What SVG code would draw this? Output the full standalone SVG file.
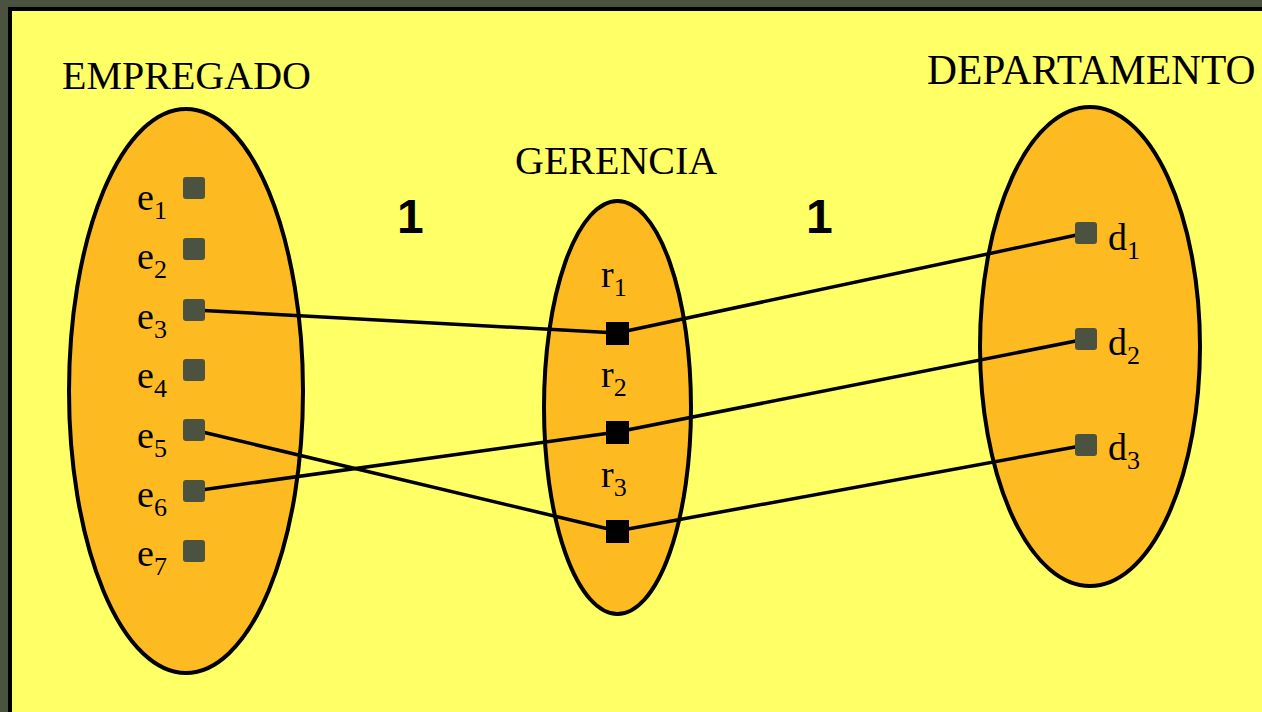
<svg xmlns="http://www.w3.org/2000/svg" width="1262" height="712" viewBox="0 0 1262 712">
<style>
.bg{fill:#4b5340}
.panel{fill:#ffff66;stroke:#000;stroke-width:4}
.set{fill:#fdba21;stroke:#000;stroke-width:4}
.title{font-family:"Liberation Serif","Times New Roman",serif;font-size:40px;fill:#000}
.lbl{font-family:"Liberation Serif","Times New Roman",serif;font-size:38px;fill:#000}
.sub{font-size:26px}
.card{font-family:"Liberation Sans",Arial,sans-serif;font-size:48px;font-weight:bold;fill:#000}
.ent{fill:#4b5340}
.rel{fill:#000}
.conn{stroke:#000;stroke-width:3.5;fill:none}
</style>
<rect class="bg" x="0" y="0" width="1262" height="712"/>
<rect class="panel" x="10" y="9" width="1270" height="720"/>
<g id="empregado">
<ellipse class="set" cx="186" cy="391" rx="117" ry="282"/>
<text class="title" x="62" y="89">EMPREGADO</text>
<text class="lbl" x="137" y="210">e<tspan class="sub" dy="9">1</tspan></text>
<text class="lbl" x="137" y="269">e<tspan class="sub" dy="9">2</tspan></text>
<text class="lbl" x="137" y="329">e<tspan class="sub" dy="9">3</tspan></text>
<text class="lbl" x="137" y="388">e<tspan class="sub" dy="9">4</tspan></text>
<text class="lbl" x="137" y="448">e<tspan class="sub" dy="9">5</tspan></text>
<text class="lbl" x="137" y="507">e<tspan class="sub" dy="9">6</tspan></text>
<text class="lbl" x="137" y="566">e<tspan class="sub" dy="9">7</tspan></text>
</g>
<g id="gerencia">
<ellipse class="set" cx="617.5" cy="407.5" rx="73.5" ry="206.5"/>
<text class="title" x="515" y="174">GERENCIA</text>
<text class="lbl" x="601" y="287">r<tspan class="sub" dy="9">1</tspan></text>
<text class="lbl" x="601" y="387">r<tspan class="sub" dy="9">2</tspan></text>
<text class="lbl" x="601" y="487">r<tspan class="sub" dy="9">3</tspan></text>
</g>
<g id="departamento">
<ellipse class="set" cx="1090" cy="346.5" rx="110" ry="239.5"/>
<text class="title" x="927" y="84" style="font-size:41.5px">DEPARTAMENTO</text>
<text class="lbl" x="1108" y="250">d<tspan class="sub" dy="9">1</tspan></text>
<text class="lbl" x="1108" y="355">d<tspan class="sub" dy="9">2</tspan></text>
<text class="lbl" x="1108" y="460">d<tspan class="sub" dy="9">3</tspan></text>
</g>
<g id="cardinalities">
<text class="card" x="397" y="233">1</text>
<text class="card" x="806" y="233">1</text>
</g>
<g id="connectors">
<line class="conn" x1="194" y1="310" x2="617" y2="333"/>
<line class="conn" x1="617" y1="333" x2="1086" y2="233"/>
<line class="conn" x1="194" y1="491" x2="617" y2="432"/>
<line class="conn" x1="617" y1="432" x2="1086" y2="339"/>
<line class="conn" x1="194" y1="430" x2="617" y2="531"/>
<line class="conn" x1="617" y1="531" x2="1086" y2="445"/>
</g>
<g id="points">
<rect class="ent" x="183" y="177" width="22" height="22" rx="3"/>
<rect class="ent" x="183" y="238" width="22" height="22" rx="3"/>
<rect class="ent" x="183" y="299" width="22" height="22" rx="3"/>
<rect class="ent" x="183" y="359" width="22" height="22" rx="3"/>
<rect class="ent" x="183" y="419" width="22" height="22" rx="3"/>
<rect class="ent" x="183" y="480" width="22" height="22" rx="3"/>
<rect class="ent" x="183" y="540" width="22" height="22" rx="3"/>
<rect class="rel" x="606" y="322" width="23" height="23"/>
<rect class="rel" x="606" y="421" width="23" height="23"/>
<rect class="rel" x="606" y="520" width="23" height="23"/>
<rect class="ent" x="1075" y="222" width="22" height="22" rx="3"/>
<rect class="ent" x="1075" y="328" width="22" height="22" rx="3"/>
<rect class="ent" x="1075" y="434" width="22" height="22" rx="3"/>
</g>
</svg>
